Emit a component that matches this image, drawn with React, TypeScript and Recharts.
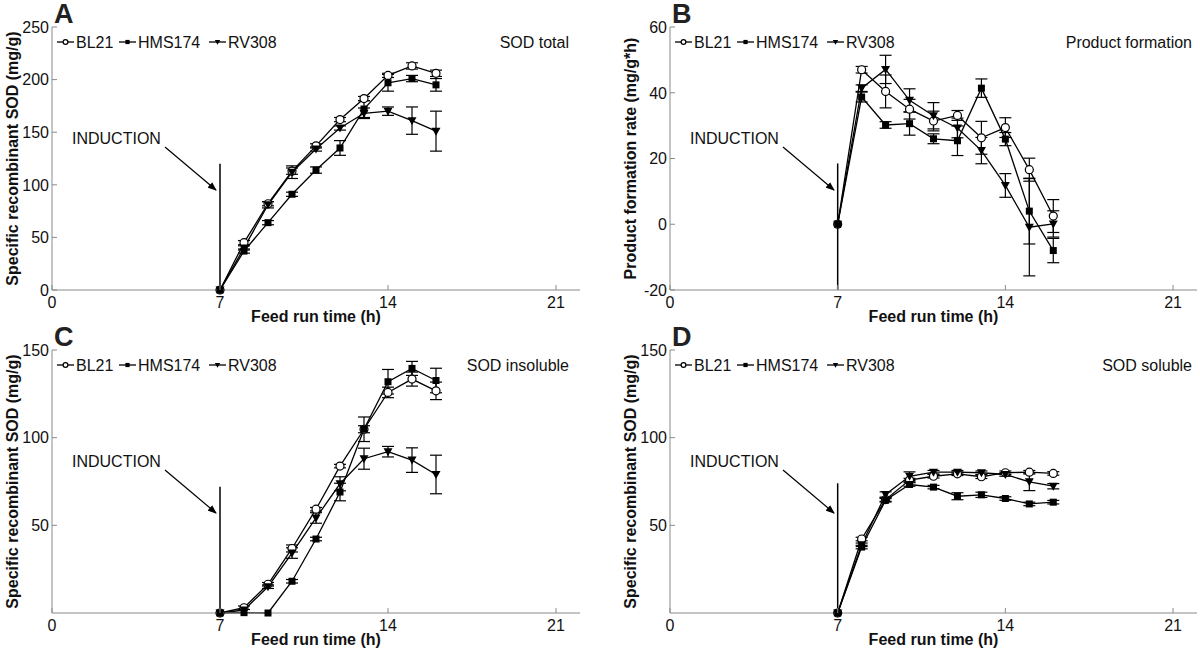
import React from "react";
import { LineChart, Line, XAxis, YAxis, ErrorBar, ReferenceLine } from "recharts";

const hours = [7, 8, 9, 10, 11, 12, 13, 14, 15, 16];
const xTicks = [0, 7, 14, 21];
const strains = ["BL21", "HMS174", "RV308"];

// A - SOD total
const totalBL21 = [0, 45, 82, 113, 137, 162, 182, 204, 213, 206];
const totalBL21Err = [0, 2, 2, 3, 2, 2, 2, 2, 3, 3];
const totalHMS174 = [0, 37, 64, 91, 114, 135, 172, 197, 201, 195];
const totalHMS174Err = [0, 2, 2, 2, 3, 7, 8, 8, 3, 6];
const totalRV308 = [0, 40, 81, 112, 134, 154, 168, 170, 161, 151];
const totalRV308Err = [0, 2, 3, 6, 2, 2, 5, 4, 13, 19];

// B - product formation rate
const rateBL21 = [0, 47, 40.4, 35, 31.4, 33.1, 26.3, 29.4, 16.6, 2.5];
const rateBL21Err = [0, 1, 5, 3, 3, 1.5, 5, 3, 3.5, 5];
const rateHMS174 = [0, 38.7, 30.2, 30.6, 26, 25.4, 41.4, 25.9, 4, -8];
const rateHMS174Err = [0, 1.5, 1, 3.5, 1.5, 4.5, 2.8, 2, 10, 3.7];
const rateRV308 = [0, 41.4, 47.1, 37.7, 33, 29.3, 22.4, 11.8, -0.9, 0.1];
const rateRV308Err = [0, 1, 4.3, 3.5, 4, 3, 4, 3.6, 14.8, 4];

// C - SOD insoluble
const insolBL21 = [0, 3, 16.4, 36.8, 59.2, 83.8, 104.8, 125.8, 133.4, 126.7];
const insolBL21Err = [0, 1, 1, 2, 1, 1, 2, 3, 4, 5];
const insolHMS174 = [0, 0.2, 0, 18.1, 42.2, 69, 104.8, 131.9, 139.5, 132.6];
const insolHMS174Err = [0, 0, 0, 1, 1, 5, 7, 7, 4, 7];
const insolRV308 = [0, 1.7, 15, 34.2, 54.2, 73.7, 88, 92, 87.2, 79];
const insolRV308Err = [0, 0, 1, 3, 3, 4, 6, 3, 7, 11];

// D - SOD soluble
const solBL21 = [0, 42.2, 64.7, 75.8, 78, 79.4, 77.7, 80, 80.3, 79.6];
const solBL21Err = [0, 1, 1, 1, 1, 1, 1, 1, 1, 1];
const solHMS174 = [0, 37.6, 64.3, 73.3, 71.8, 66.6, 67.4, 65.3, 62.2, 63.2];
const solHMS174Err = [0, 1, 1, 1, 1, 2, 1.5, 1, 1, 1];
const solRV308 = [0, 38.9, 67.6, 78, 80.3, 80.3, 80, 79, 74.8, 72.3];
const solRV308Err = [0, 1, 1.5, 2.5, 1, 1, 1, 1, 5, 1.5];

const FONT = "'Liberation Sans', Arial, sans-serif";
const FRAME = "#8a8a8a";
const INK = "#111";

function buildRows(series: number[][], errs: number[][]) {
  return hours.map((h, i) => ({
    h,
    s0: series[0][i], e0: errs[0][i],
    s1: series[1][i], e1: errs[1][i],
    s2: series[2][i], e2: errs[2][i],
  }));
}

const panels = [
  {
    letter: "A", title: "SOD total", yLabel: "Specific recombinant SOD (mg/g)",
    yDomain: [0, 250], yTicks: [0, 50, 100, 150, 200, 250], inductionTop: 120,
    rows: buildRows([totalBL21, totalHMS174, totalRV308], [totalBL21Err, totalHMS174Err, totalRV308Err]),
    left: 52, right: 20, titleRight: 569, x: 0, y: 0,
  },
  {
    letter: "B", title: "Product formation", yLabel: "Product formation rate (mg/g*h)",
    yDomain: [-20, 60], yTicks: [-20, 0, 20, 40, 60], inductionTop: 18.5,
    rows: buildRows([rateBL21, rateHMS174, rateRV308], [rateBL21Err, rateHMS174Err, rateRV308Err]),
    left: 70, right: 3, titleRight: 592, x: 600, y: 0,
  },
  {
    letter: "C", title: "SOD insoluble", yLabel: "Specific recombinant SOD (mg/g)",
    yDomain: [0, 150], yTicks: [50, 100, 150], inductionTop: 72,
    rows: buildRows([insolBL21, insolHMS174, insolRV308], [insolBL21Err, insolHMS174Err, insolRV308Err]),
    left: 52, right: 20, titleRight: 569, x: 0, y: 323,
  },
  {
    letter: "D", title: "SOD soluble", yLabel: "Specific recombinant SOD (mg/g)",
    yDomain: [0, 150], yTicks: [50, 100, 150], inductionTop: 74,
    rows: buildRows([solBL21, solHMS174, solRV308], [solBL21Err, solHMS174Err, solRV308Err]),
    left: 70, right: 3, titleRight: 592, x: 600, y: 323,
  },
];

function markerShape(kind: number, cx: number, cy: number, key: any, small = false) {
  const s = small ? 0.6 : 1;
  if (kind === 0)
    return <circle key={key} cx={cx} cy={cy} r={4 * s} fill="#fff" stroke="#000" strokeWidth={1.2} />;
  if (kind === 1)
    return <rect key={key} x={cx - 3.5 * s} y={cy - 3.5 * s} width={7 * s} height={7 * s} fill="#000" />;
  return (
    <path
      key={key}
      d={`M${cx - 4.5 * s},${cy - 3.5 * s}L${cx + 4.5 * s},${cy - 3.5 * s}L${cx},${cy + 4.5 * s}Z`}
      fill="#000"
    />
  );
}

const BottomTick = (p: any) => (
  <g>
    <line x1={p.x} y1={p.y} x2={p.x} y2={p.y - 5} stroke={FRAME} />
    <text x={p.x} y={p.y + 6} dy="0.73em" textAnchor="middle" fontSize={16} fill={INK} fontFamily={FONT}>
      {p.payload.value}
    </text>
  </g>
);
const TopTick = (p: any) => <line x1={p.x} y1={p.y} x2={p.x} y2={p.y + 5} stroke={FRAME} />;
const LeftTick = (p: any) => (
  <g>
    <line x1={p.x} y1={p.y} x2={p.x + 5} y2={p.y} stroke={FRAME} />
    <text x={p.x - 3} y={p.y} dy="0.36em" textAnchor="end" fontSize={16} fill={INK} fontFamily={FONT}>
      {p.payload.value}
    </text>
  </g>
);
const RightTick = (p: any) => <line x1={p.x} y1={p.y} x2={p.x - 5} y2={p.y} stroke={FRAME} />;

function Panel({ cfg }: { cfg: (typeof panels)[number] }) {
  const W = 600;
  const H = 326;
  const top = 27;
  const plotW = W - cfg.left - cfg.right;
  const L = cfg.left;
  const legendX = [L + 5, L + 67, L + 157];
  return (
    <div style={{ position: "absolute", left: cfg.x, top: cfg.y, width: W, height: H }}>
      <LineChart width={W} height={H} data={cfg.rows} margin={{ top, right: cfg.right, left: 0, bottom: 0 }}>
        <XAxis
          dataKey="h" type="number" domain={[0, 22]} ticks={xTicks} interval={0}
          height={36} tickSize={0} tickMargin={0} stroke={FRAME} tick={BottomTick}
        />
        <XAxis
          xAxisId="top" orientation="top" type="number" domain={[0, 22]} ticks={xTicks} interval={0}
          height={0} tickSize={0} tickMargin={0} stroke={FRAME} tick={TopTick}
        />
        <YAxis
          type="number" domain={cfg.yDomain} ticks={cfg.yTicks} interval={0}
          width={cfg.left} tickSize={0} tickMargin={0} stroke={FRAME} tick={LeftTick}
        />
        <YAxis
          yAxisId="right" orientation="right" type="number" domain={cfg.yDomain} ticks={cfg.yTicks} interval={0}
          width={0} tickSize={0} tickMargin={0} stroke={FRAME} tick={RightTick}
        />
        <ReferenceLine
          segment={[{ x: 7, y: cfg.yDomain[0] }, { x: 7, y: cfg.inductionTop }]}
          stroke="#000" strokeWidth={1.5}
        />
        {[0, 1, 2].map((k) => (
          <Line
            key={k}
            dataKey={`s${k}`}
            name={strains[k]}
            stroke="#000"
            strokeWidth={1.3}
            isAnimationActive={false}
            dot={(d: any) => markerShape(k, d.cx, d.cy, `${k}-${d.index}`)}
          >
            <ErrorBar dataKey={`e${k}`} direction="y" width={6} stroke="#000" strokeWidth={1.2} />
          </Line>
        ))}
      </LineChart>
      <svg width={W} height={H} style={{ position: "absolute", left: 0, top: 0, pointerEvents: "none" }} fontFamily={FONT}>
        <defs>
          <marker id={`arr-${cfg.letter}`} markerWidth="9" markerHeight="7" refX="8" refY="3.5" orient="auto" markerUnits="userSpaceOnUse">
            <path d="M0,0 L9,3.5 L0,7 Z" fill="#000" />
          </marker>
        </defs>
        <text x={L + 2} y={23} fontSize={27} fontWeight="bold" fill="#222">{cfg.letter}</text>
        {strains.map((s, k) => (
          <g key={s}>
            <line x1={legendX[k]} y1={42} x2={legendX[k] + 17} y2={42} stroke="#000" strokeWidth={1.3} />
            {markerShape(k, legendX[k] + 8.5, 42, s, true)}
            <text x={legendX[k] + 19} y={48} fontSize={16} fill={INK}>{s}</text>
          </g>
        ))}
        <text x={cfg.titleRight} y={48} fontSize={16} fill={INK} textAnchor="end">{cfg.title}</text>
        <text
          transform={`translate(${L - 40},${top + 131.5}) rotate(-90)`}
          textAnchor="middle" dominantBaseline="central" fontSize={16} fontWeight="bold" fill={INK}
        >
          {cfg.yLabel}
        </text>
        <text x={L + plotW / 2} y={322} textAnchor="middle" fontSize={16} fontWeight="bold" fill={INK}>
          Feed run time (h)
        </text>
        <text x={L + 20} y={144} fontSize={16} fill={INK}>INDUCTION</text>
        <line
          x1={L + 113} y1={147} x2={L + 164} y2={190}
          stroke="#000" strokeWidth={1.2} markerEnd={`url(#arr-${cfg.letter})`}
        />
      </svg>
    </div>
  );
}

export default function App() {
  return (
    <div style={{ position: "absolute", left: 0, top: 0, width: 1200, height: 652, background: "#fff", fontFamily: FONT }}>
      {panels.map((p) => (
        <Panel key={p.letter} cfg={p} />
      ))}
    </div>
  );
}
